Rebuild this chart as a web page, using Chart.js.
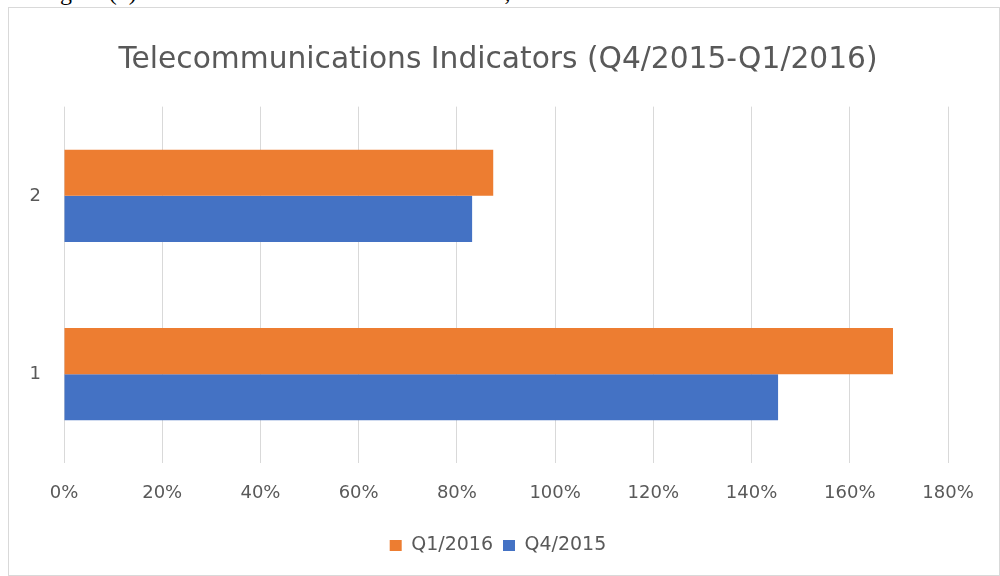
<!DOCTYPE html>
<html>
<head>
<meta charset="utf-8">
<script src="https://cdn.jsdelivr.net/npm/chart.js@4"></script>
<style>
    html, body { margin: 0; padding: 0; background: #fff; }
    body { width: 1000px; height: 576px; position: relative; overflow: hidden; }
    #caption {
        position: absolute; left: 0; top: -21px; width: 1000px;
        font-family: "Liberation Serif", serif; font-size: 24px; color: #000;
        white-space: nowrap; padding-left: 40px;
    }
    #box {
        position: absolute; left: 8px; top: 7px; width: 990px; height: 567px;
        border: 1px solid #d9d9d9; background: #fff;
    }
</style>
</head>
<body>
<div id="caption">Figure (4) Jordan Telecommunication Indicators, 2016</div>
<div id="box"><canvas id="chart" width="990" height="567"></canvas></div>
<script>
const categories = ['2', '1'];
const q12016 = [87.4, 168.8];
const q42015 = [83.1, 145.4];
const xTicks = [0, 20, 40, 60, 80, 100, 120, 140, 160, 180];

const grey = '#595959';
const ctx = document.getElementById('chart').getContext('2d');
const chart = new Chart(ctx, {
    type: 'bar',
    data: {
        labels: categories,
        datasets: [
            {
                label: 'Q1/2016',
                data: q12016,
                backgroundColor: '#ed7d31',
                barPercentage: 1,
                categoryPercentage: 0.517
            },
            {
                label: 'Q4/2015',
                data: q42015,
                backgroundColor: '#4472c4',
                barPercentage: 1,
                categoryPercentage: 0.517
            }
        ]
    },
    options: {
        indexAxis: 'y',
        responsive: false,
        animation: false,
        layout: { padding: { left: 0, right: 12, top: 0, bottom: 10 } },
        plugins: {
            title: {
                display: true,
                text: 'Telecommunications Indicators (Q4/2015-Q1/2016)',
                color: grey,
                font: { family: 'DejaVu Sans', size: 29.7, weight: 'normal' },
                padding: { top: 34, bottom: 29 }
            },
            legend: {
                position: 'bottom',
                labels: {
                    color: grey,
                    font: { family: 'DejaVu Sans', size: 19 },
                    boxWidth: 12,
                    boxHeight: 11,
                    padding: 10
                }
            },
            tooltip: { enabled: false }
        },
        scales: {
            x: {
                min: 0,
                max: 180,
                afterBuildTicks: function(scale) {
                    scale.ticks = xTicks.map(v => ({ value: v }));
                },
                afterFit: function(scale) {
                    scale.height += 3;
                    scale.paddingRight = 51;
                },
                ticks: {
                    color: grey,
                    font: { family: 'DejaVu Sans', size: 18 },
                    padding: 19,
                    callback: v => v + '%'
                },
                grid: { color: '#d9d9d9', drawTicks: false },
                border: { display: false }
            },
            y: {
                afterFit: function(scale) { scale.width = 55; },
                ticks: {
                    color: grey,
                    font: { family: 'DejaVu Sans', size: 18 },
                    padding: 23
                },
                grid: { display: false, drawTicks: false },
                border: { display: false }
            }
        }
    }
});
</script>
</body>
</html>
